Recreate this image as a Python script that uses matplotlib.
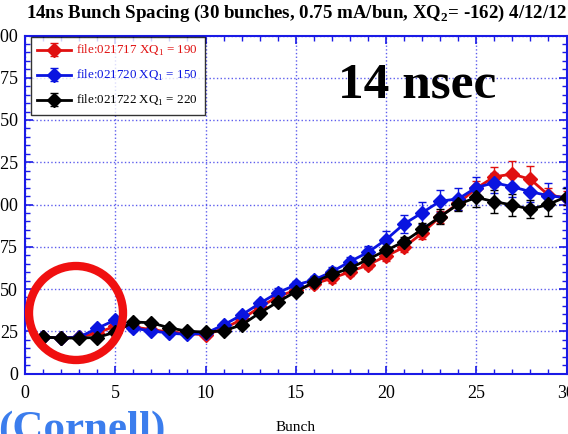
import matplotlib
matplotlib.use("Agg")
import matplotlib.pyplot as plt
from matplotlib.patches import Ellipse
from matplotlib.ticker import MultipleLocator

plt.rcParams['font.family'] = ['Liberation Serif', 'DejaVu Serif']
plt.rcParams['mathtext.fontset'] = 'custom'
plt.rcParams['mathtext.rm'] = 'Liberation Serif'
plt.rcParams['mathtext.bf'] = 'Liberation Serif:bold'

bunch = list(range(1, 31))

# file:021717 XQ1 = 190
red_y = [21.5, 21.2, 21.5, 24.0, 28.0, 27.5, 26.0, 24.5, 23.8, 22.8,
         26.5, 32.0, 39.2, 45.4, 49.4, 53.0, 56.3, 60.2, 64.2, 69.5,
         74.7, 83.0, 92.8, 100.7, 109.6, 116.4, 118.0, 114.9, 105.6, 104.0]
red_err = [1.0, 1.0, 1.0, 1.2, 1.5, 1.5, 1.5, 1.5, 1.5, 1.5,
           1.5, 2.0, 2.0, 2.0, 2.0, 2.5, 2.5, 2.5, 2.5, 3.0,
           3.0, 3.5, 3.5, 4.0, 4.5, 6.0, 8.0, 8.0, 4.0, 4.0]

# file:021720 XQ1 = 150
blue_y = [21.5, 21.0, 21.5, 26.7, 31.7, 26.7, 25.3, 23.8, 23.2, 23.8,
          28.7, 34.6, 41.5, 47.8, 52.4, 55.3, 60.2, 66.2, 71.7, 79.2,
          88.5, 95.1, 102.0, 103.3, 110.0, 112.9, 110.5, 107.6, 105.2, 104.0]
blue_err = [1.0, 1.0, 1.0, 1.2, 1.5, 1.5, 1.5, 1.5, 1.5, 1.5,
            2.0, 2.0, 2.0, 2.5, 2.5, 2.5, 3.0, 3.0, 3.5, 5.0,
            5.4, 6.4, 6.4, 6.4, 6.4, 6.0, 6.0, 6.0, 7.4, 6.5]

# file:021722 XQ1 = 220
black_y = [21.6, 21.0, 21.0, 21.3, 24.5, 30.5, 30.0, 27.0, 25.0, 24.5,
           25.3, 28.7, 35.8, 42.3, 48.4, 54.0, 58.7, 62.2, 67.6, 72.8,
           78.0, 85.3, 92.8, 100.1, 104.2, 101.7, 99.7, 97.2, 100.1, 104.6]
black_err = [1.0, 1.0, 1.0, 1.0, 1.5, 1.5, 1.5, 1.5, 1.5, 1.5,
             1.5, 2.0, 2.0, 2.0, 2.0, 2.0, 2.0, 2.5, 2.5, 2.5,
             3.0, 3.5, 4.4, 4.0, 5.4, 6.9, 6.4, 5.4, 6.9, 5.0]

series = [
    (red_y, red_err, '#e01010', 'file:021717 XQ$_1$ = 190'),
    (blue_y, blue_err, '#0a14e0', 'file:021720 XQ$_1$ = 150'),
    (black_y, black_err, 'black', 'file:021722 XQ$_1$ = 220'),
]

axis_blue = '#1a1ae6'

fig = plt.figure(figsize=(5.68, 4.34), dpi=100)
ax = fig.add_axes([25 / 568, 60.5 / 434, 541.5 / 568, 338 / 434])

for y, err, col, lab in series:
    ax.errorbar(bunch, y, yerr=err, color=col, lw=2, marker='D', ms=7,
                mec=col, mfc=col, capsize=3, elinewidth=1, capthick=1, label=lab)

ax.set_xlim(0, 30)
ax.set_ylim(0, 200)
ax.xaxis.set_major_locator(MultipleLocator(5))
ax.xaxis.set_minor_locator(MultipleLocator(1))
ax.yaxis.set_major_locator(MultipleLocator(25))
ax.yaxis.set_minor_locator(MultipleLocator(5))
ax.grid(True, which='major', color=axis_blue, ls=':', lw=1, alpha=0.7)
ax.set_axisbelow(True)
for sp in ax.spines.values():
    sp.set_color(axis_blue)
    sp.set_linewidth(1.5)
ax.tick_params(which='both', direction='in', top=True, right=True,
               color=axis_blue, labelsize=13, labelcolor='black')
ax.tick_params(which='major', length=6, width=1.2)
ax.tick_params(which='minor', length=3.5, width=1)
ax.tick_params(axis='x', pad=8)
ax.tick_params(axis='y', pad=5)
ax.set_xlabel('Bunch', fontsize=11, labelpad=14)

leg = ax.legend(loc='upper left', bbox_to_anchor=(0.008, 1.0), borderaxespad=0.1,
                fontsize=9.4, frameon=True, fancybox=False, edgecolor='black',
                handlelength=2.6, handletextpad=0.4, borderpad=0.5,
                labelspacing=0.75)
leg.get_frame().set_linewidth(1)
for txt, (_, _, col, _) in zip(leg.get_texts(), series):
    txt.set_color(col)

fig.text(0.522, 0.97, r'14ns Bunch Spacing (30 bunches, 0.75 mA/bun, XQ$_\mathbf{2}$= -162) 4/12/12',
         ha='center', va='center', fontsize=13.6, fontweight='bold')
fig.text(417 / 568, 1 - 86 / 434, '14 nsec', ha='center', va='center',
         fontsize=37, fontweight='bold')
fig.text(-0.004, 1 - 440 / 434, '(Cornell)', ha='left', va='baseline',
         fontsize=31, fontweight='bold', color='#3b7ded')

# highlight ring round the first bunches
fig.patches.append(Ellipse((76 / 568, 1 - 313 / 434), 94 / 568, 94 / 434,
                           transform=fig.transFigure, fill=False,
                           ec='#f01010', lw=6, zorder=10))

fig.savefig('out.png', dpi=100)
